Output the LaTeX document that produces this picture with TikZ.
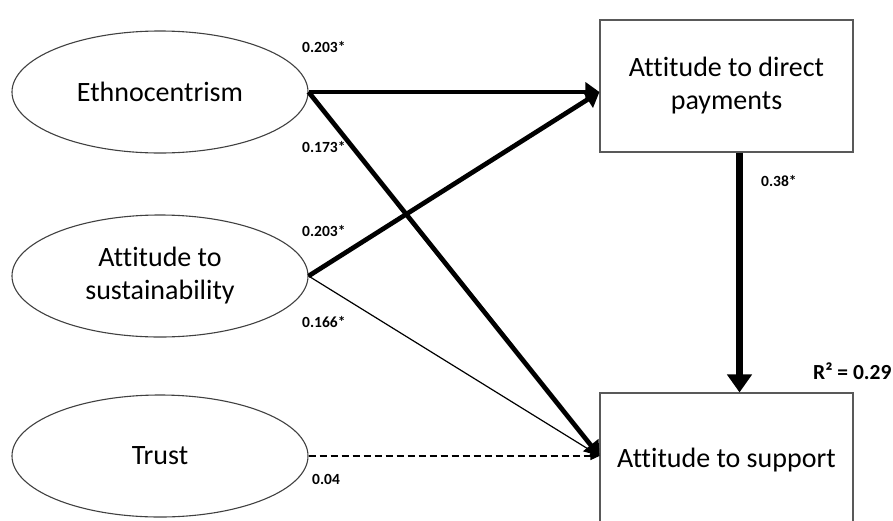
\documentclass[tikz,border=0pt]{standalone}
\usepackage{fontspec}
\setmainfont{Carlito}[Ligatures=NoCommon]
\usetikzlibrary{arrows.meta,shapes.geometric}

\begin{document}
\begin{tikzpicture}[x=1pt,y=-1pt,
  latent/.style={ellipse,draw=black!75,line width=1.1pt,minimum width=296pt,
    minimum height=122pt,inner sep=0pt,align=center,
    font=\fontsize{28}{33}\selectfont},
  observed/.style={rectangle,draw=black!65,line width=1.1pt,minimum width=253pt,
    inner sep=0pt,align=center,font=\fontsize{28}{33}\selectfont},
  coef/.style={anchor=west,inner sep=0pt,font=\fontsize{15.5}{18}\selectfont\bfseries},
  strongpath/.style={line width=4.7pt,-{Triangle[length=14pt,width=19pt]}},
  weakpath/.style={line width=1.2pt,-{Triangle[length=9pt,width=8pt]}},
  nspath/.style={line width=1.2pt,dash pattern=on 7pt off 4pt,-{Triangle[length=9pt,width=8pt]}},
  mainpath/.style={line width=7.5pt,-{Triangle[length=18pt,width=24pt]}}
]
\useasboundingbox (0,0) rectangle (893,520);
\clip (0,0) rectangle (893,520);

% latent constructs
\node[latent] (ethno) at (160,92) {Ethnocentrism};
\node[latent] (sust) at (160,276) {Attitude to\\sustainability};
\node[latent] (trust) at (160,456) {Trust};

% outcome boxes
\node[observed,minimum height=132pt] (pay) at (726.5,86) {Attitude to direct\\payments};
\node[observed,minimum height=134pt] (supp) at (726.5,460) {Attitude to support};

% structural paths
\draw[strongpath] (ethno.east) -- (ethno.east -| pay.west);
\draw[strongpath] (sust.east) -- (ethno.east -| pay.west);
\draw[weakpath] (sust.east) -- (trust.east -| supp.west);
\draw[nspath] (trust.east) -- (trust.east -| supp.west);
\draw[strongpath] (ethno.east) -- (trust.east -| supp.west);
\draw[mainpath] ([xshift=13pt]pay.south) -- ([xshift=13pt]pay.south |- supp.north);

% path coefficients
\node[coef] (c1) at (302,47) {0.203*};
\node[coef] (c2) at (302,147) {0.173*};
\node[coef] (c3) at (302,231) {0.203*};
\node[coef] (c4) at (302,322) {0.166*};
\node[coef] (c5) at (312,479) {0.04};
\node[coef] (c6) at (761,181) {0.38*};
\node[coef,font=\fontsize{21.5}{25}\selectfont\bfseries] (r2) at (813,371) {R² = 0.29};
\end{tikzpicture}
\end{document}
